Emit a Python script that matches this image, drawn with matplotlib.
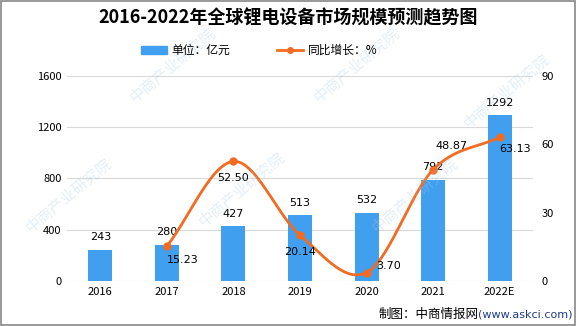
import matplotlib
matplotlib.use("Agg")
import matplotlib.pyplot as plt
import numpy as np
from matplotlib.lines import Line2D
from matplotlib.patches import Patch

plt.rcParams['font.family'] = ['Noto Sans CJK SC', 'DejaVu Sans']

years = ["2016", "2017", "2018", "2019", "2020", "2021", "2022E"]
market = [243, 280, 427, 513, 532, 792, 1292]
growth = [None, 15.23, 52.50, 20.14, 3.70, 48.87, 63.13]

BLUE = "#419FF0"
ORANGE = "#F26B21"


def catmull_rom(xs, ys, n=30):
    # smooth curve through the points, like the office "smoothed line"
    xs = np.asarray(xs, float)
    ys = np.asarray(ys, float)
    px = np.concatenate([[2 * xs[0] - xs[1]], xs, [2 * xs[-1] - xs[-2]]])
    py = np.concatenate([[2 * ys[0] - ys[1]], ys, [2 * ys[-1] - ys[-2]]])
    outx, outy = [], []
    for i in range(1, len(px) - 2):
        t = np.linspace(0, 1, n)
        for p, out in ((px, outx), (py, outy)):
            p0, p1, p2, p3 = p[i - 1], p[i], p[i + 1], p[i + 2]
            out.extend(0.5 * ((2 * p1) + (-p0 + p2) * t
                              + (2 * p0 - 5 * p1 + 4 * p2 - p3) * t ** 2
                              + (-p0 + 3 * p1 - 3 * p2 + p3) * t ** 3))
    return np.array(outx), np.array(outy)


fig = plt.figure(figsize=(5.76, 3.26), dpi=100)

# faint watermarks, kept inside the figure
for wx, wy in [(0.30, 0.80), (0.62, 0.80), (0.88, 0.72),
               (0.12, 0.40), (0.42, 0.42), (0.72, 0.40)]:
    fig.text(wx, wy, "中商产业研究院", fontsize=11, color="#A9CBE6", alpha=0.3,
             rotation=40, ha="center", va="center", zorder=0)

ax = fig.add_axes([0.1163, 0.138, 0.809, 0.629])
ax.patch.set_alpha(0)
x = np.arange(len(years))

ax.bar(x, market, width=0.36, color=BLUE, zorder=2)
for xi, v in zip(x, market):
    ax.text(xi, v + 60, str(v), ha="center", va="bottom", fontsize=8,
            family="DejaVu Sans")

ax.set_xlim(-0.5, 6.5)
ax.set_ylim(0, 1600)
ax.set_yticks([0, 400, 800, 1200, 1600])
ax.set_xticks(x)
ax.set_xticklabels(years)
ax.grid(axis="y", color="#D9D9D9", lw=0.8, zorder=0)
for s in ax.spines.values():
    s.set_visible(False)
ax.tick_params(length=0, labelsize=8, pad=4)

ax2 = ax.twinx()
gx = [xi for xi, g in zip(x, growth) if g is not None]
gy = [g for g in growth if g is not None]
sx, sy = catmull_rom(gx, gy)
ax2.plot(sx, sy, color=ORANGE, lw=2, zorder=3)
ax2.plot(gx, gy, "o", color=ORANGE, ms=5, zorder=4)
ax2.set_ylim(0, 90)
ax2.set_yticks([0, 30, 60, 90])
for s in ax2.spines.values():
    s.set_visible(False)
ax2.tick_params(length=0, labelsize=8, pad=6)

offsets = {1: (0.0, -4, "left", "top"), 2: (0, -5, "center", "top"),
           3: (0, -5, "center", "top"), 4: (0.15, 3, "left", "center"),
           5: (0.28, 8, "center", "bottom"), 6: (0.0, -3, "left", "top")}
for xi, g in zip(gx, gy):
    dx, dy, ha, va = offsets[xi]
    ax2.text(xi + dx, g + dy, f"{g:.2f}", ha=ha, va=va, fontsize=8,
             family="DejaVu Sans")

fig.text(0.5, 0.945, "2016-2022年全球锂电设备市场规模预测趋势图", ha="center",
         va="center", fontsize=13, fontweight="bold")

handles = [Patch(color=BLUE, label="单位：亿元"),
           Line2D([], [], color=ORANGE, lw=2, marker="o", ms=4, label="同比增长：%")]
fig.legend(handles=handles, loc="center", bbox_to_anchor=(0.45, 0.845), ncol=2,
           frameon=False, fontsize=8.5, columnspacing=4, handlelength=2.2,
           handletextpad=0.4)

fig.text(0.83, 0.036, "制图：中商情报网", ha="right", va="center", fontsize=9)
fig.text(0.83, 0.036, "(www.askci.com)", ha="left", va="center", fontsize=8,
         color="#1F3A8A", family="DejaVu Sans")

fig.patches.append(plt.Rectangle((0.001, 0.002), 0.997, 0.995, fill=False,
                                 edgecolor="#888888", lw=1.2,
                                 transform=fig.transFigure))

fig.savefig("out.png", dpi=100)
